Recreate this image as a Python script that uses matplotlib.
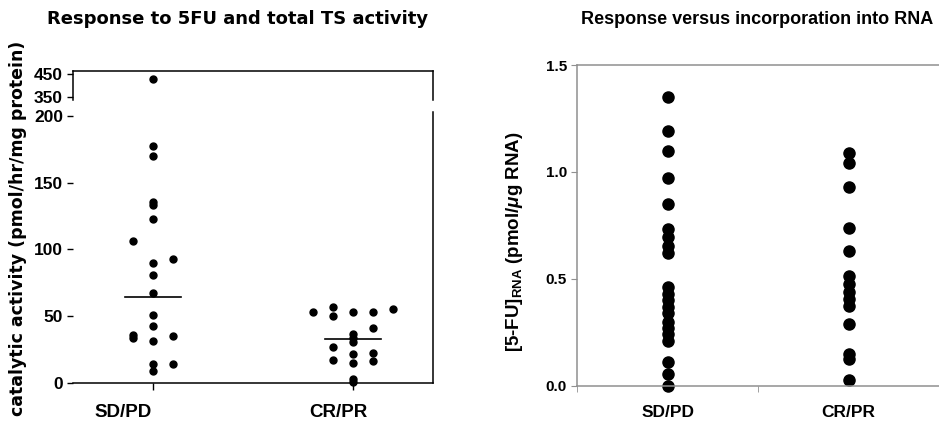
import numpy as np
import matplotlib
matplotlib.use('Agg')
from matplotlib import pyplot as plt
from matplotlib import font_manager

groups = ['SD/PD', 'CR/PR']

# left panel: total TS activity, each point = (column offset index, value)
sdpd_ts_col = [-1, -1, -1,
               0, 0, 0, 0, 0, 0, 0, 0, 0, 0, 0, 0, 0, 0,
               1, 1, 1]
sdpd_ts = [106.5, 36.0, 33.6,
           428, 177.8, 169.9, 135.3, 133.0, 123.0, 89.6, 80.5, 67.0, 50.9, 42.5, 30.9, 14.3, 8.9,
           92.6, 34.8, 13.8]
crpr_ts_col = [-2,
               -1, -1, -1, -1,
               0, 0, 0, 0, 0, 0, 0, 0,
               1, 1, 1, 1,
               2]
crpr_ts = [52.8,
           56.9, 50.0, 26.7, 16.8,
           52.8, 36.6, 33.5, 30.2, 21.5, 14.5, 3.0, 0.3,
           52.8, 41.0, 22.6, 16.0,
           55.1]
ts_lines = [64.5, 32.4]

# right panel: 5-FU incorporation into RNA
rna_sdpd = [1.35, 1.19, 1.10, 0.97, 0.85, 0.735, 0.695, 0.655, 0.62,
            0.46, 0.43, 0.40, 0.37, 0.34, 0.30, 0.27, 0.24, 0.21,
            0.11, 0.055, 0.0]
rna_crpr = [1.09, 1.04, 0.93, 0.74, 0.63, 0.515, 0.475, 0.44, 0.405, 0.375,
            0.29, 0.15, 0.125, 0.025]

names = {f.name for f in font_manager.fontManager.ttflist}
narrow = 'Liberation Sans Narrow' if 'Liberation Sans Narrow' in names else 'Liberation Sans'

plt.rcParams['mathtext.fontset'] = 'custom'
plt.rcParams['mathtext.rm'] = 'Liberation Sans:bold'
plt.rcParams['mathtext.bf'] = 'Liberation Sans:bold'
plt.rcParams['mathtext.it'] = 'Liberation Sans:bold:italic'

fig = plt.figure(figsize=(9.39, 4.30), dpi=100)

# ---- left panel (broken axis) ----
ax_hi = fig.add_axes([0.0781, 0.7674, 0.3827, 0.0682])
ax_lo = fig.add_axes([0.0781, 0.1100, 0.3827, 0.6295])

step = 0.1
for ax in (ax_hi, ax_lo):
    xs1 = [1 + c * step for c in sdpd_ts_col]
    xs2 = [2 + c * step for c in crpr_ts_col]
    ax.plot(xs1, sdpd_ts, 'o', color='black', ms=5, clip_on=False)
    ax.plot(xs2, crpr_ts, 'o', color='black', ms=5, clip_on=False)
    ax.set_xlim(0.6, 2.4)
    ax.tick_params(axis='y', direction='out', length=4, width=1, colors='black')
    for s in ax.spines.values():
        s.set_linewidth(1.1)

ax_hi.set_ylim(335.5, 464.5)
ax_hi.set_yticks([350, 450])
ax_hi.spines['bottom'].set_visible(False)
ax_hi.set_xticks([])

ax_lo.set_ylim(0, 203)
ax_lo.set_yticks([0, 50, 100, 150, 200])
ax_lo.spines['top'].set_visible(False)
ax_lo.spines['left'].set_visible(False)
ax_lo.set_xticks([1, 2])
ax_lo.set_xticklabels(['', ''])
ax_lo.tick_params(axis='x', direction='out', length=5, width=1)

for i, v in enumerate(ts_lines):
    ax_lo.plot([i + 1 - 0.14, i + 1 + 0.14], [v, v], color='black', lw=1.2)

for ax in (ax_hi, ax_lo):
    for lab in ax.get_yticklabels():
        lab.set_fontfamily(narrow)
        lab.set_fontweight('bold')
        lab.set_fontsize(12.5)

trans = ax_lo.get_xaxis_transform()
ax_lo.text(1 - 0.15, -0.11, groups[0], transform=trans, ha='center', va='center',
           fontfamily=narrow, fontweight='bold', fontsize=13.5)
ax_lo.text(2 - 0.07, -0.11, groups[1], transform=trans, ha='center', va='center',
           fontfamily=narrow, fontweight='bold', fontsize=13.5)

fig.text(0.253, 0.955, 'Response to 5FU and total TS activity', ha='center', va='center',
         fontfamily='DejaVu Sans', fontweight='bold', fontsize=13)
fig.text(0.019, 0.47, 'catalytic activity (pmol/hr/mg protein)', rotation=90,
         ha='center', va='center', fontfamily='DejaVu Sans', fontweight='bold', fontsize=12.5)

# ---- right panel ----
ax2 = fig.add_axes([0.6148, 0.1030, 0.3852, 0.7458])
ax2.plot([1] * len(rna_sdpd), rna_sdpd, 'o', color='black', ms=8, clip_on=False)
ax2.plot([2] * len(rna_crpr), rna_crpr, 'o', color='black', ms=8, clip_on=False)
ax2.set_xlim(0.5, 2.5)
ax2.set_ylim(0, 1.5)
ax2.set_yticks([0.0, 0.5, 1.0, 1.5])
ax2.set_yticklabels(['0.0', '0.5', '1.0', '1.5'])
ax2.set_xticks([1, 2])
ax2.set_xticklabels(groups)
ax2.set_xticks([0.5, 1.5, 2.5], minor=True)
ax2.tick_params(axis='x', which='major', length=0, pad=14)
ax2.tick_params(axis='x', which='minor', direction='out', length=4, color='#909090')
ax2.tick_params(axis='y', direction='out', length=4, color='#909090')
for lab in ax2.get_xticklabels():
    lab.set_fontfamily('Liberation Sans')
    lab.set_fontweight('bold')
    lab.set_fontsize(12.5)
for lab in ax2.get_yticklabels():
    lab.set_fontfamily('Liberation Sans')
    lab.set_fontweight('bold')
    lab.set_fontsize(11)
for s in ('top', 'left', 'bottom'):
    ax2.spines[s].set_color('#909090')
    ax2.spines[s].set_linewidth(1.1)
ax2.spines['right'].set_visible(False)

ax2.set_ylabel(r'[5-FU]$_{\mathrm{RNA}}$ (pmol/$\mu$g RNA)', fontfamily='Liberation Sans',
               fontweight='bold', fontsize=13.5)
ax2.yaxis.set_label_coords(-0.145, 0.448)
fig.text(0.806, 0.955, 'Response versus incorporation into RNA', ha='center', va='center',
         fontfamily='Liberation Sans', fontweight='bold', fontsize=13)

fig.savefig('out.png', dpi=100)
